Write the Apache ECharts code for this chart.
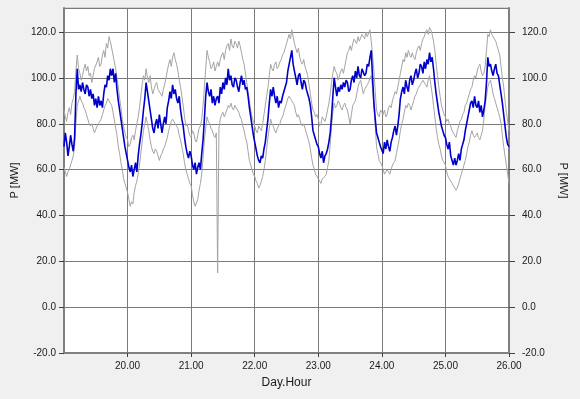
<!DOCTYPE html>
<html lang="en">
<head>
	<meta charset="UTF-8">
	<title>P [MW]</title>
	<script src="https://cdn.jsdelivr.net/npm/echarts@6/dist/echarts.min.js"></script>
	<style>
		* {
			margin: 0;
			padding: 0;
		}

		body {
			background: #f0f0f0;
		}

		#container {
			width: 580px;
			height: 399px;
		}
	</style>
</head>
<body>
<div id="container"></div>
<script type="text/javascript">
	// half-hourly values, day 19 00h .. day 26 00h (one row per day)
	var startDay = 19;
	var pointsPerDay = 48;

	var measured = [
		70, 76, 72, 66, 70, 75, 71, 68, 74, 93, 104, 95, 97, 94, 98, 95, 93, 97, 96, 92, 95, 91, 93, 88, 91, 87, 92, 88, 90, 87, 93, 97, 96, 101, 99, 104, 101, 104, 98, 102, 95, 90, 86, 82, 78, 74, 70, 67,
		64, 61, 59, 62, 57, 60, 63, 59, 66, 71, 75, 80, 86, 91, 98, 94, 90, 86, 82, 78, 76, 80, 82, 78, 84, 80, 76, 80, 83, 80, 87, 90, 94, 91, 97, 93, 95, 91, 89, 92, 86, 82, 79, 74, 70, 67, 65, 68,
		66, 62, 60, 63, 58, 61, 63, 60, 67, 73, 82, 92, 98, 94, 92, 95, 89, 92, 88, 91, 92, 89, 96, 93, 98, 95, 100, 97, 104, 99, 101, 97, 96, 100, 99, 96, 94, 98, 101, 97, 99, 95, 96, 92, 87, 83, 79, 75,
		72, 69, 66, 64, 63, 66, 65, 69, 72, 77, 82, 89, 95, 92, 96, 92, 89, 92, 87, 90, 89, 92, 94, 96, 98, 103, 106, 109, 112, 106, 103, 100, 97, 101, 102, 98, 95, 99, 98, 95, 93, 91, 88, 83, 77, 75, 73, 71,
		70, 67, 65, 68, 63, 66, 67, 69, 72, 76, 83, 92, 100, 96, 92, 96, 94, 97, 95, 98, 96, 99, 98, 94, 95, 99, 101, 98, 103, 100, 105, 101, 100, 104, 104, 101, 102, 106, 105, 109, 112, 100, 89, 82, 76, 74, 72, 70,
		70, 67, 72, 69, 73, 70, 68, 72, 74, 77, 79, 75, 79, 84, 91, 94, 96, 93, 99, 96, 94, 99, 101, 97, 99, 102, 104, 100, 102, 106, 105, 102, 107, 104, 108, 106, 111, 107, 109, 104, 98, 93, 89, 85, 82, 79, 77, 75,
		74, 71, 69, 72, 66, 64, 62, 65, 62, 64, 67, 64, 69, 71, 73, 77, 80, 83, 86, 89, 90, 87, 92, 88, 87, 90, 85, 88, 83, 86, 90, 98, 109, 105, 106, 103, 101, 104, 106, 102, 101, 97, 93, 89, 84, 79, 74, 71,
		70
	];

	var upper = [
		86, 83, 81, 85, 87, 84, 89, 91, 94, 103, 110, 104, 102, 99, 101, 104, 106, 103, 105, 101, 102, 98, 101, 104, 104, 107, 109, 105, 106, 110, 112, 109, 115, 113, 118, 116, 113, 110, 107, 104, 100, 96, 91, 87, 82, 79, 76, 74,
		73, 70, 71, 74, 75, 73, 77, 80, 83, 87, 92, 97, 101, 99, 104, 100, 98, 101, 96, 93, 93, 97, 98, 95, 95, 93, 92, 95, 97, 100, 103, 106, 108, 105, 109, 111, 108, 106, 103, 99, 96, 92, 88, 83, 79, 80, 77, 75,
		74, 77, 76, 73, 72, 75, 78, 79, 82, 88, 96, 104, 112, 109, 107, 104, 105, 107, 103, 105, 107, 105, 108, 110, 111, 108, 112, 114, 115, 112, 117, 114, 113, 116, 115, 113, 116, 114, 111, 108, 106, 102, 98, 94, 90, 86, 83, 81,
		79, 77, 76, 79, 78, 77, 80, 84, 88, 92, 96, 101, 106, 104, 103, 106, 107, 104, 105, 107, 108, 110, 111, 113, 115, 117, 119, 117, 121, 118, 115, 113, 111, 113, 109, 107, 106, 108, 105, 103, 101, 97, 93, 89, 86, 85, 83, 84,
		82, 79, 80, 83, 82, 81, 83, 86, 89, 93, 98, 102, 105, 103, 102, 99, 101, 103, 104, 102, 105, 108, 111, 112, 114, 112, 115, 117, 117, 115, 118, 116, 116, 119, 118, 117, 120, 118, 118, 121, 116, 110, 103, 94, 86, 84, 83, 86,
		85, 84, 86, 83, 84, 87, 88, 87, 90, 92, 94, 93, 96, 99, 102, 105, 108, 107, 111, 109, 112, 110, 109, 111, 109, 108, 111, 113, 114, 112, 115, 117, 118, 120, 121, 119, 122, 121, 119, 116, 112, 106, 101, 96, 92, 88, 86, 84,
		83, 81, 82, 80, 79, 77, 76, 75, 74, 77, 79, 81, 82, 84, 85, 88, 89, 91, 93, 95, 96, 99, 101, 100, 103, 105, 106, 103, 101, 102, 105, 112, 119, 118, 121, 119, 119, 117, 116, 114, 114, 110, 105, 100, 96, 90, 85, 81,
		77
	];

	var lower = [
		61, 59, 57, 59, 60, 62, 64, 66, 70, 80, 88, 90, 92, 90, 89, 87, 86, 84, 82, 80, 79, 80, 78, 76, 76, 79, 80, 81, 82, 84, 86, 88, 89, 91, 90, 89, 88, 85, 82, 78, 75, 70, 67, 63, 60, 56, 54, 52,
		50, 47, 44, 46, 45, 50, 53, 55, 58, 62, 67, 72, 77, 80, 83, 80, 77, 73, 70, 68, 67, 69, 68, 66, 64, 66, 67, 69, 70, 72, 74, 77, 79, 81, 82, 81, 80, 79, 78, 75, 73, 70, 67, 63, 60, 58, 56, 54,
		53, 49, 46, 44, 44, 47, 51, 54, 58, 65, 73, 78, 83, 81, 80, 78, 77, 75, 74, 76, 15, 78, 82, 84, 85, 83, 83, 86, 88, 87, 89, 87, 86, 88, 88, 86, 85, 83, 82, 79, 77, 74, 72, 68, 64, 62, 60, 58,
		57, 55, 54, 52, 53, 55, 57, 60, 64, 69, 74, 78, 82, 80, 79, 77, 76, 78, 78, 80, 82, 83, 85, 87, 89, 91, 92, 91, 90, 89, 88, 85, 83, 84, 82, 80, 79, 80, 78, 76, 74, 72, 69, 65, 62, 60, 58, 57,
		57, 55, 54, 56, 56, 57, 58, 61, 64, 71, 79, 85, 89, 87, 88, 90, 89, 87, 86, 88, 89, 87, 86, 83, 80, 84, 88, 89, 90, 93, 96, 98, 99, 96, 93, 95, 96, 97, 98, 100, 101, 95, 88, 79, 70, 67, 64, 63,
		62, 60, 58, 59, 60, 59, 58, 60, 62, 63, 64, 67, 70, 73, 77, 80, 82, 85, 88, 87, 89, 88, 86, 88, 90, 92, 93, 95, 96, 97, 98, 99, 99, 97, 96, 99, 101, 97, 93, 88, 83, 78, 74, 71, 69, 66, 64, 63,
		62, 59, 57, 56, 56, 54, 53, 52, 51, 52, 54, 56, 58, 60, 62, 64, 67, 70, 72, 75, 77, 75, 74, 75, 76, 74, 73, 75, 77, 82, 88, 92, 96, 98, 99, 96, 93, 91, 89, 87, 85, 83, 80, 75, 70, 66, 62, 58,
		54
	];

	function toPoints(values) {
		return values.map(function (v, i) {
			return [startDay + i / pointsPerDay, v];
		});
	}

	var labelFont = {fontFamily: 'Liberation Sans', fontSize: 10, color: '#1a1a1a'};
	var nameFont = {fontFamily: 'Liberation Sans', fontSize: 11, color: '#1a1a1a'};

	var myChart = echarts.init(document.getElementById('container'));

	var option = {
		backgroundColor: '#f0f0f0',
		animation: false,
		grid: {
			left: 64,
			right: 71,
			top: 8,
			bottom: 46,
			show: true,
			backgroundColor: '#ffffff',
			borderColor: '#b8b8b8',
			borderWidth: 1
		},
		xAxis: {
			type: 'value',
			min: 19,
			max: 26,
			interval: 1,
			name: 'Day.Hour',
			nameLocation: 'middle',
			nameGap: 24,
			nameTextStyle: {fontFamily: 'Liberation Sans', fontSize: 12, color: '#1a1a1a'},
			axisLine: {show: true, onZero: false, lineStyle: {color: '#808080', width: 2}},
			axisTick: {show: true, length: 4, lineStyle: {color: '#404040'}},
			axisLabel: Object.assign({
				margin: 8,
				showMinLabel: false,
				formatter: function (v) { return v.toFixed(2); }
			}, labelFont),
			splitLine: {show: true, lineStyle: {color: '#7a7a7a', width: 1}}
		},
		yAxis: [
			{
				type: 'value',
				min: -20,
				max: 130.5,
				interval: 20,
				name: 'P [MW]',
				nameLocation: 'middle',
				nameGap: 44,
				nameTextStyle: nameFont,
				axisLine: {show: true, onZero: false, lineStyle: {color: '#808080', width: 2}},
				axisTick: {show: true, length: 5, lineStyle: {color: '#404040'}},
				axisLabel: Object.assign({
					margin: 8,
					showMaxLabel: false,
					formatter: function (v) { return v.toFixed(1); }
				}, labelFont),
				splitLine: {show: true, lineStyle: {color: '#7a7a7a', width: 1}}
			},
			{
				type: 'value',
				position: 'right',
				min: -20,
				max: 130.5,
				interval: 20,
				name: 'P [MW]',
				nameLocation: 'middle',
				nameGap: 39,
				nameRotate: -90,
				nameTextStyle: nameFont,
				axisLine: {show: true, onZero: false, lineStyle: {color: '#808080', width: 2}},
				axisTick: {show: true, length: 6, lineStyle: {color: '#404040'}},
				axisLabel: Object.assign({
					margin: 13,
					showMaxLabel: false,
					formatter: function (v) { return v.toFixed(1); }
				}, labelFont),
				splitLine: {show: false}
			}
		],
		series: [
			{
				name: 'upper',
				type: 'line',
				showSymbol: false,
				lineStyle: {color: '#a4a4a4', width: 1},
				data: toPoints(upper)
			},
			{
				name: 'lower',
				type: 'line',
				showSymbol: false,
				lineStyle: {color: '#a4a4a4', width: 1},
				data: toPoints(lower)
			},
			{
				name: 'P',
				type: 'line',
				showSymbol: false,
				lineStyle: {color: '#0000cc', width: 1.6},
				data: toPoints(measured)
			}
		]
	};

	myChart.setOption(option);
</script>
</body>
</html>
